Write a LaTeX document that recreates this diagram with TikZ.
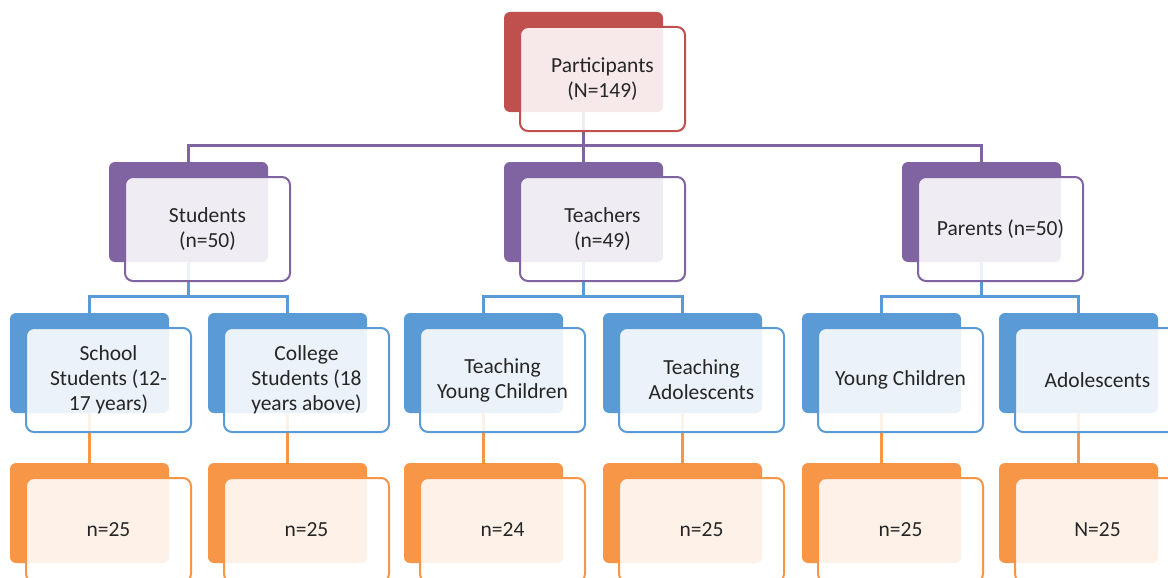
\documentclass[tikz,border=0pt]{standalone}
\usepackage{fontspec}
\setmainfont{Carlito}
\definecolor{cred}{HTML}{C0504D}
\definecolor{cpurple}{HTML}{8064A2}
\definecolor{cblue}{HTML}{5B9BD5}
\definecolor{corange}{HTML}{F79646}
\definecolor{txt}{HTML}{262626}
\tikzset{
  backbox/.style={rectangle, rounded corners=6pt, minimum width=159pt, minimum height=100pt, inner sep=0pt, fill=#1, draw=none},
  frontbox/.style={rectangle, rounded corners=8pt, minimum width=165pt, minimum height=104pt, inner sep=0pt, fill=white, fill opacity=0.88, text opacity=1, draw=#1, line width=2pt, align=center, font=\fontsize{21.5}{25}\selectfont, text=txt},
  conn/.style={draw=#1, line width=3pt},
}
\begin{document}
\begin{tikzpicture}[x=1pt,y=-1pt]
\useasboundingbox (0,0) rectangle (1168,578);
\fill[white] (0,0) rectangle (1168,578);
\clip (0,0) rectangle (1168,578);

% back boxes (positions)
\node[backbox=cred] (p) at (583.5,62) {};
\node[backbox=cpurple] (s) at (188.5,212) {};
\node[backbox=cpurple] (t) at (583.5,212) {};
\node[backbox=cpurple] (pa) at (981.5,212) {};
\node[backbox=cblue] (s1) at (89.5,363) {};
\node[backbox=cblue] (s2) at (287.5,363) {};
\node[backbox=cblue] (t1) at (483.5,363) {};
\node[backbox=cblue] (t2) at (682.5,363) {};
\node[backbox=cblue] (p1) at (881.5,363) {};
\node[backbox=cblue] (p2) at (1078.5,363) {};
\node[backbox=corange] (n1) at (89.5,513) {};
\node[backbox=corange] (n2) at (287.5,513) {};
\node[backbox=corange] (n3) at (483.5,513) {};
\node[backbox=corange] (n4) at (682.5,513) {};
\node[backbox=corange] (n5) at (881.5,513) {};
\node[backbox=corange] (n6) at (1078.5,513) {};

% connectors
\coordinate (j1) at (583.5,145);
\coordinate (js) at (188.5,296);
\coordinate (jt) at (583.5,296);
\coordinate (jp) at (981.5,296);
\draw[conn=cpurple] (p.south) -- (j1) -- (t.north);
\draw[conn=cpurple] (s.north) |- (j1) -| (pa.north);
\draw[conn=cblue] (s.south) -- (js);
\draw[conn=cblue] (s1.north) |- (js) -| (s2.north);
\draw[conn=cblue] (t.south) -- (jt);
\draw[conn=cblue] (t1.north) |- (jt) -| (t2.north);
\draw[conn=cblue] (pa.south) -- (jp);
\draw[conn=cblue] (p1.north) |- (jp) -| (p2.north);
\draw[conn=corange] (s1.south) -- (n1.north);
\draw[conn=corange] (s2.south) -- (n2.north);
\draw[conn=corange] (t1.south) -- (n3.north);
\draw[conn=corange] (t2.south) -- (n4.north);
\draw[conn=corange] (p1.south) -- (n5.north);
\draw[conn=corange] (p2.south) -- (n6.north);

% front boxes with text
\node[frontbox=cred] (pf) at (602.5,79) {Participants\\(N=149)};
\node[frontbox=cpurple] (sf) at (207.5,229) {Students\\(n=50)};
\node[frontbox=cpurple] (tf) at (602.5,229) {Teachers\\(n=49)};
\node[frontbox=cpurple] (paf) at (1000.5,229) {Parents (n=50)};
\node[frontbox=cblue] (s1f) at (108.5,380) {School\\Students (12-\\17 years)};
\node[frontbox=cblue] (s2f) at (306.5,380) {College\\Students (18\\years above)};
\node[frontbox=cblue] (t1f) at (502.5,380) {Teaching\\Young Children};
\node[frontbox=cblue] (t2f) at (701.5,380) {Teaching\\Adolescents};
\node[frontbox=cblue] (p1f) at (900.5,380) {Young Children};
\node[frontbox=cblue] (p2f) at (1097.5,380) {Adolescents};
\node[frontbox=corange] (n1f) at (108.5,530) {n=25};
\node[frontbox=corange] (n2f) at (306.5,530) {n=25};
\node[frontbox=corange] (n3f) at (502.5,530) {n=24};
\node[frontbox=corange] (n4f) at (701.5,530) {n=25};
\node[frontbox=corange] (n5f) at (900.5,530) {n=25};
\node[frontbox=corange] (n6f) at (1097.5,530) {N=25};
\end{tikzpicture}
\end{document}
